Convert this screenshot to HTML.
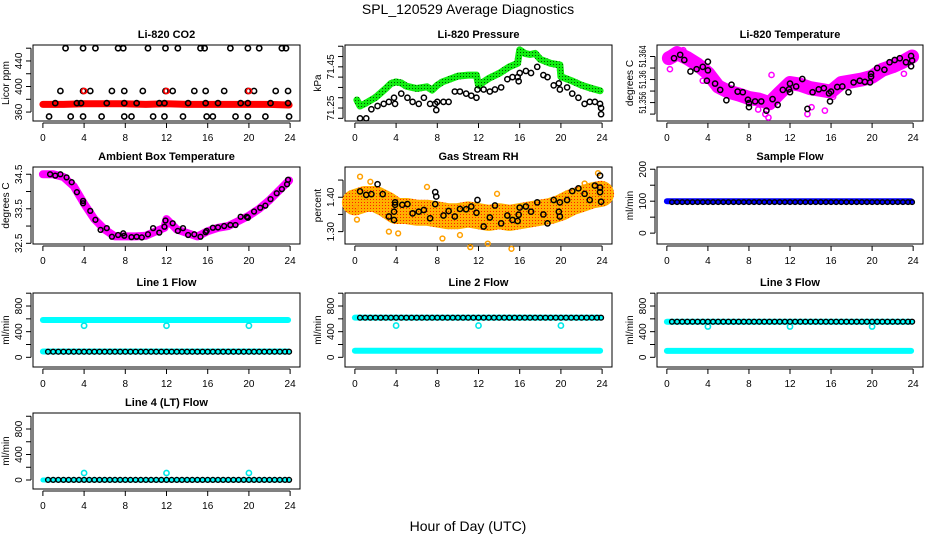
<!DOCTYPE html>
<html><head><meta charset="utf-8"><style>
html,body{margin:0;padding:0;background:#fff;}
svg{display:block;font-family:"Liberation Sans",Arial,sans-serif;}
</style></head><body>
<svg id="chart" width="936" height="540" viewBox="0 0 936 540">
<defs>
<pattern id="orangeDots" width="3" height="3" patternUnits="userSpaceOnUse"><rect width="3" height="3" fill="#ffb000"/><rect x="1" y="1" width="1" height="1" fill="#ff2000"/></pattern>
<pattern id="greenDots" width="3" height="3" patternUnits="userSpaceOnUse"><rect width="3" height="3" fill="#11ee11"/><rect x="1" y="1" width="1" height="1" fill="#005500"/></pattern>
</defs>
<text x="468" y="14" text-anchor="middle" font-size="14">SPL_120529  Average Diagnostics</text>
<text x="468" y="531" text-anchor="middle" font-size="14">Hour of Day (UTC)</text>
</svg>
<script>
// ---- data ----
const hours48 = [0.5,1,1.5,2,2.5,3,3.5,4,4.5,5,5.5,6,6.5,7,7.5,8,8.5,9,9.5,10,10.5,11,11.5,12,12.5,13,13.5,14,14.5,15,15.5,16,16.5,17,17.5,18,18.5,19,19.5,20,20.5,21,21.5,22,22.5,23,23.5,23.9];
const xTicks = [0,4,8,12,16,20,24];

// CO2
const co2RedHours = [0,2,4,6,8,10,12,14,16,18,20,22,23.9];
const co2RedVals = [372,372,373,373,373,372,373,372,372,372,372,372,371];
const co2RedMarkHours = [4,12,20];
const co2RedMarkVals = [393,393,393];
const co2BlackHours = [2.2,3.9,5.1,7.3,7.8,10.2,11.9,13.1,15.3,15.7,18.2,19.9,21.0,23.2,23.6,
 1.7,3.9,4.6,6.7,7.9,9.7,11.9,12.6,14.7,15.8,17.6,19.9,20.5,22.6,23.8,
 1.2,3.3,3.7,6.2,7.9,9.1,11.3,11.8,14.1,15.8,17.0,19.2,19.9,22.1,23.8,
 0.6,2.7,3.9,5.7,7.9,8.6,10.7,11.8,13.6,15.9,16.5,18.7,19.9,21.6,23.9];
const co2BlackVals = [460,460,460,460,460,460,460,460,460,460,460,460,460,460,460,
 393,393,393,393,393,393,393,393,393,393,393,393,393,393,393,
 374,374,374,374,374,374,374,374,374,374,374,374,374,374,374,
 353,353,353,353,353,353,353,353,353,353,353,353,353,353,353];

// Pressure
const presGreenHours = [0.2,0.5,1,2,3,3.5,4,4.5,5,6,7,7.5,8,8.5,9,10,11,11.8,12,13,14,15,15.8,16,16.5,17,17.5,18,19,19.9,20,21,22,23,23.8];
const presGreenVals = [71.289,71.260,71.272,71.301,71.345,71.369,71.377,71.372,71.356,71.345,71.353,71.337,71.361,71.377,71.386,71.405,71.410,71.410,71.361,71.394,71.418,71.450,71.467,71.532,71.515,71.510,71.515,71.486,71.467,71.459,71.402,71.383,71.361,71.345,71.334];
const presBlackHours = [0.5,1.1,1.6,2.2,2.8,3.3,3.8,3.9,4.5,5.1,5.6,6.2,6.7,7.3,7.8,7.9,8.0,8.6,9.1,9.7,10.2,10.8,11.3,11.8,11.9,12.5,13.1,13.6,14.2,14.8,15.3,15.8,15.9,16.0,16.6,17.1,17.7,18.3,18.7,19.3,19.8,19.9,20.6,21.1,21.7,22.3,22.8,23.3,23.8,23.9,23.9];
const presBlackVals = [71.20,71.20,71.244,71.26,71.27,71.28,71.30,71.27,71.32,71.30,71.28,71.27,71.30,71.27,71.27,71.24,71.28,71.28,71.28,71.33,71.33,71.32,71.31,71.30,71.34,71.34,71.33,71.34,71.35,71.39,71.40,71.40,71.38,71.42,71.43,71.42,71.45,71.41,71.40,71.36,71.37,71.34,71.35,71.32,71.30,71.27,71.28,71.28,71.27,71.25,71.22];

// Li-820 temperature
const tempMagHours = [0.2,0.5,1,2,3,4,5,6,7,8,9,10,11,12,13,14,15,16,17,18,19,20,21,22,23,23.9];
const tempMagVals = [51.3637,51.3640,51.3646,51.3637,51.3626,51.3611,51.3588,51.3579,51.3574,51.3568,51.3565,51.3559,51.3577,51.3594,51.3591,51.3585,51.3582,51.3579,51.3594,51.3597,51.3600,51.3605,51.3617,51.3623,51.3631,51.3640];
const tempOutHours = [0.3,1.6,8.9,9.6,9.9,13.7,14.1,15.4,3.5,4.1,10.2,16.2,23.1];
const tempOutVals = [51.3618,51.3651,51.3548,51.3540,51.3534,51.3540,51.3552,51.3546,51.3598,51.3600,51.3608,51.3570,51.3610];
const tempBlackHours = [0.7,1.3,1.7,2.3,2.9,3.5,4.0,4.0,3.9,4.7,5.2,5.8,6.3,6.9,7.4,7.9,8.0,8.0,8.6,9.2,9.7,10.3,10.8,11.3,11.9,12.0,12.0,12.6,13.2,13.7,14.2,14.8,15.3,15.8,16.0,15.9,16.6,17.1,17.7,18.2,18.8,19.3,19.8,19.9,19.9,20.5,21.2,21.7,22.2,22.7,23.3,23.8,23.8,23.9];
const tempBlackVals = [51.3637,51.3643,51.3634,51.3614,51.3618,51.3622,51.3631,51.3616,51.3598,51.3593,51.3582,51.3564,51.3591,51.3579,51.3578,51.3565,51.3552,51.3559,51.3562,51.3562,51.3546,51.3566,51.3556,51.3582,51.3583,51.3578,51.3593,51.3588,51.3601,51.3549,51.3578,51.3583,51.3585,51.3576,51.3579,51.3562,51.3587,51.3588,51.3578,51.3595,51.3598,51.3596,51.3595,51.3610,51.3605,51.3620,51.3617,51.3630,51.3634,51.3637,51.3630,51.3641,51.3623,51.3633];

// Ambient box temperature
const ambMagHours = [0,1,2,3,4,5,6,7,8,9,10,11,11.8,12,13,14,15,16,17,18,19,20,21,22,23,23.9];
const ambMagVals = [34.5,34.5,34.42,34.15,33.65,33.2,32.9,32.7,32.7,32.7,32.72,32.85,32.95,33.2,32.9,32.8,32.7,32.85,32.95,33.0,33.15,33.3,33.5,33.75,34.05,34.32];
const ambBlackHours = [0.7,1.2,1.7,2.3,2.8,3.3,3.9,3.9,4.6,5.1,5.6,6.2,6.7,7.3,7.8,7.9,8.6,9.1,9.6,10.2,10.7,11.3,11.8,11.9,12.6,13.1,13.6,14.1,14.7,15.3,15.8,15.9,16.5,17.0,17.6,18.2,18.7,19.2,19.8,19.9,20.5,21.1,21.6,22.1,22.7,23.2,23.7,23.8];
const ambBlackVals = [34.5,34.46,34.5,34.41,34.27,33.98,33.73,33.66,33.44,33.18,32.89,32.94,32.69,32.74,32.79,32.72,32.68,32.69,32.67,32.76,32.94,32.81,32.98,33.16,33.08,32.86,32.94,32.74,32.76,32.69,32.82,32.86,32.95,32.96,33.0,33.03,33.03,33.27,33.27,33.24,33.42,33.53,33.59,33.78,33.95,34.07,34.21,34.34];

// Gas stream RH
const rhBandHours = [0,1,2,3,4,5,6,7,8,9,10,11,12,13,14,15,16,17,18,19,20,21,22,23,23.9];
const rhBandVals = [1.385,1.395,1.395,1.38,1.36,1.36,1.355,1.355,1.35,1.345,1.345,1.35,1.345,1.34,1.345,1.34,1.345,1.35,1.355,1.36,1.37,1.385,1.395,1.405,1.41];
const rhOutHours = [0.1,0.2,0.5,1.5,3.3,7.0,8.5,10.2,11.2,12.9,15.2,22.3,23.6,13.8,4.2];
const rhOutVals = [1.37,1.335,1.46,1.445,1.30,1.43,1.28,1.29,1.255,1.265,1.25,1.44,1.47,1.41,1.295];
const rhBlackHours = [0.5,1.1,1.6,2.2,2.7,3.3,3.8,3.8,3.9,3.9,4.6,5.1,5.6,6.2,6.7,7.3,7.8,7.9,7.8,8.6,9.1,9.7,10.2,10.8,11.3,11.8,11.9,12.5,13.1,13.6,14.2,14.8,15.3,15.8,15.9,16.0,16.6,17.1,17.7,18.3,18.7,19.3,19.8,19.9,19.9,20.6,21.1,21.7,22.3,22.8,23.3,23.8,23.8,23.8,23.9];
const rhBlackVals = [1.417,1.407,1.409,1.438,1.409,1.344,1.334,1.358,1.378,1.385,1.378,1.380,1.353,1.358,1.363,1.339,1.415,1.402,1.380,1.347,1.360,1.344,1.366,1.365,1.373,1.355,1.392,1.315,1.341,1.376,1.324,1.347,1.334,1.331,1.349,1.370,1.373,1.358,1.385,1.350,1.324,1.392,1.358,1.344,1.385,1.392,1.418,1.426,1.410,1.392,1.434,1.463,1.428,1.415,1.387];

// Sample flow
const sampleBlueHours = [0,23.8];
const sampleBlueVals = [100,100];
const sampleBlackVals = [97,97,97,97,97,97,97,97,97,97,97,97,97,97,97,97,97,97,97,97,97,97,97,97,97,97,97,97,97,97,97,97,97,97,97,97,97,97,97,97,97,97,97,97,97,97,97,97];

// Line flows
const cyanBandHours = [0,23.8];
const cyanDipHours = [4,12,20];
const line1CyanHi = [582,582];
const line1CyanLo = [90,90];
const line1CyanDip = [493,493,493];
const line1BlackVals = [87,87,87,87,87,87,87,87,87,87,87,87,87,87,87,87,87,87,87,87,87,87,87,87,87,87,87,87,87,87,87,87,87,87,87,87,87,87,87,87,87,87,87,87,87,87,87,87];
const line2CyanHi = [620,620];
const line2CyanLo = [103,103];
const line2CyanDip = [495,495,495];
const line2BlackVals = [618,618,618,618,618,618,618,618,618,618,618,618,618,618,618,618,618,618,618,618,618,618,618,618,618,618,618,618,618,618,618,618,618,618,618,618,618,618,618,618,618,618,618,618,618,618,618,618];
const line3CyanHi = [555,555];
const line3CyanLo = [100,100];
const line3CyanDip = [480,480,480];
const line3BlackVals = [555,555,555,555,555,555,555,555,555,555,555,555,555,555,555,555,555,555,555,555,555,555,555,555,555,555,555,555,555,555,555,555,555,555,555,555,555,555,555,555,555,555,555,555,555,555,555,555];
const line4CyanBase = [0,0];
const line4CyanSpike = [110,110,110];
const line4BlackVals = [2,2,2,2,2,2,2,2,2,2,2,2,2,2,2,2,2,2,2,2,2,2,2,2,2,2,2,2,2,2,2,2,2,2,2,2,2,2,2,2,2,2,2,2,2,2,2,2];

// ---- drawing ----
const NS = 'http://www.w3.org/2000/svg';
const svg = document.getElementById('chart');
function mk(tag, attrs, parent, name) {
  const e = document.createElementNS(NS, tag);
  for (const k in attrs) e.setAttribute(k, attrs[k]);
  
  
  (parent || svg).appendChild(e);
  return e;
}
function makePanel(o) {
  const g = mk('g', {}, svg, o.name);
  const [x0, x1, y0, y1] = o.box;
  const sx = h => x0 + (h + 0.96) / 25.92 * (x1 - x0);
  const sy = v => y1 - (v - o.ymin) / (o.ymax - o.ymin) * (y1 - y0);
  mk('rect', {x: x0, y: y0, width: x1 - x0, height: y1 - y0, fill: 'none', stroke: '#000', 'stroke-width': 1}, g, 'plot-frame');
  mk('text', {x: (x0 + x1) / 2, y: y0 - 7, 'text-anchor': 'middle', 'font-size': 11, 'font-weight': 'bold'}, g, 'panel-title').textContent = o.title;
  mk('line', {x1: sx(0), x2: sx(24), y1: y1 + 2, y2: y1 + 2, stroke: '#000'}, g, 'x-axis-line');
  xTicks.forEach(t => {
    mk('line', {x1: sx(t), x2: sx(t), y1: y1 + 2, y2: y1 + 7, stroke: '#000'}, g, 'x-tick');
    mk('text', {x: sx(t), y: y1 + 20, 'text-anchor': 'middle', 'font-size': 10}, g, 'x-tick-label').textContent = t;
  });
  const yt = o.yticks;
  mk('line', {x1: x0 - 2, x2: x0 - 2, y1: sy(yt[0]), y2: sy(yt[yt.length - 1]), stroke: '#000'}, g, 'y-axis-line');
  yt.forEach(t => mk('line', {x1: x0 - 7, x2: x0 - 2, y1: sy(t), y2: sy(t), stroke: '#000'}, g, 'y-tick'));
  o.ylabels.forEach((t, i) => {
    const yy = sy(o.ylabelVals[i]);
    const a = {x: x0 - 11, y: yy, 'text-anchor': 'middle', 'font-size': 10, transform: `rotate(-90 ${x0 - 11} ${yy})`};
    if (o.labelLen) { a.textLength = o.labelLen * t.length / 6; a.lengthAdjust = 'spacingAndGlyphs'; }
    mk('text', a, g, 'y-tick-label').textContent = t;
  });
  const ym = (y0 + y1) / 2;
  mk('text', {x: x0 - 24, y: ym, 'text-anchor': 'middle', 'font-size': 10, transform: `rotate(-90 ${x0 - 24} ${ym})`}, g, 'y-axis-title').textContent = o.ylabel;
  const plot = mk('g', {}, g, 'plot-area');
  return {g: plot, sx, sy};
}
function band(p, hs, vs, color, w, name) {
  const pts = hs.map((h, i) => p.sx(h).toFixed(1) + ',' + p.sy(vs[i]).toFixed(1)).join(' ');
  mk('polyline', {points: pts, fill: 'none', stroke: color, 'stroke-width': w, 'stroke-linejoin': 'round', 'stroke-linecap': 'round'}, p.g, name);
}
function pts(p, hs, vs, color, r, sw, name) {
  hs.forEach((h, i) => mk('circle', {cx: p.sx(h), cy: p.sy(vs[i]), r: r, fill: 'none', stroke: color, 'stroke-width': sw}, p.g, name));
}
const C1 = [33, 300], C2 = [345, 612], C3 = [657, 923];
const R1 = [45, 121], R2 = [167, 244], R3 = [293, 367], R4 = [413, 489];
const box = (c, r) => [c[0], c[1], r[0], r[1]];

let p = makePanel({name: 'panel-co2', box: box(C1, R1), ymin: 346, ymax: 465, yticks: [360,380,400,420,440,460], ylabels: ['360','400','440'], ylabelVals: [360,400,440], title: 'Li-820 CO2', ylabel: 'Licor ppm'});
band(p, co2RedHours, co2RedVals, '#ff0000', 7, 'co2-red-band');
pts(p, co2BlackHours, co2BlackVals, '#000', 2.6, 1.6, 'co2-point');
pts(p, co2RedMarkHours, co2RedMarkVals, '#ff0000', 2.6, 1.6, 'co2-red-point');

p = makePanel({name: 'panel-pressure', box: box(C2, R1), ymin: 71.187, ymax: 71.556, yticks: [71.20,71.25,71.30,71.35,71.40,71.45,71.50,71.55], ylabels: ['71.25','71.45'], ylabelVals: [71.25,71.45], title: 'Li-820 Pressure', ylabel: 'kPa'});
band(p, presGreenHours, presGreenVals, 'url(#greenDots)', 7, 'pressure-green-band');
pts(p, presBlackHours, presBlackVals, '#000', 2.6, 1.5, 'pressure-point');

p = makePanel({name: 'panel-li820-temp', box: box(C3, R1), ymin: 51.3528, ymax: 51.3660, yticks: [51.354,51.356,51.358,51.360,51.362,51.364], ylabels: ['51.356','51.36','51.364'], ylabelVals: [51.356,51.360,51.364], labelLen: 22, title: 'Li-820 Temperature', ylabel: 'degrees C'});
band(p, tempMagHours, tempMagVals, '#ff00ff', 14, 'temp-magenta-band');
pts(p, tempOutHours, tempOutVals, '#ff00ff', 2.6, 1.5, 'temp-magenta-point');
pts(p, tempBlackHours, tempBlackVals, '#000', 2.6, 1.5, 'temp-point');

p = makePanel({name: 'panel-ambient-temp', box: box(C1, R2), ymin: 32.48, ymax: 34.71, yticks: [32.5,33,33.5,34,34.5], ylabels: ['32.5','33.5','34.5'], ylabelVals: [32.5,33.5,34.5], title: 'Ambient Box Temperature', ylabel: 'degrees C'});
band(p, ambMagHours, ambMagVals, '#ff00ff', 8, 'ambient-magenta-band');
pts(p, ambBlackHours, ambBlackVals, '#000', 2.4, 1.5, 'ambient-point');

p = makePanel({name: 'panel-gas-rh', box: box(C2, R2), ymin: 1.264, ymax: 1.488, yticks: [1.30,1.35,1.40,1.45], ylabels: ['1.30','1.40'], ylabelVals: [1.30,1.40], title: 'Gas Stream RH', ylabel: 'percent'});
band(p, rhBandHours, rhBandVals, 'url(#orangeDots)', 26, 'rh-orange-band');
pts(p, rhOutHours, rhOutVals, '#ffa000', 2.4, 1.5, 'rh-orange-point');
pts(p, rhBlackHours, rhBlackVals, '#000', 2.6, 1.5, 'rh-point');

p = makePanel({name: 'panel-sample-flow', box: box(C3, R2), ymin: -34, ymax: 207, yticks: [0,50,100,150,200], ylabels: ['0','100','200'], ylabelVals: [0,100,200], title: 'Sample Flow', ylabel: 'ml/min'});
band(p, sampleBlueHours, sampleBlueVals, '#0000ff', 6, 'sample-blue-band');
pts(p, hours48, sampleBlackVals, '#000', 2.3, 1.4, 'sample-point');

const flowTicks = [0,200,400,600,800,1000];
p = makePanel({name: 'panel-line1-flow', box: box(C1, R3), ymin: -151, ymax: 1003, yticks: flowTicks, ylabels: ['0','400','800'], ylabelVals: [0,400,800], title: 'Line 1 Flow', ylabel: 'ml/min'});
band(p, cyanBandHours, line1CyanHi, '#00ffff', 6, 'line1-cyan-high');
band(p, cyanBandHours, line1CyanLo, '#00ffff', 6, 'line1-cyan-low');
pts(p, cyanDipHours, line1CyanDip, '#00e8e8', 2.6, 1.6, 'line1-cyan-dip');
pts(p, hours48, line1BlackVals, '#000', 2.4, 1.4, 'line1-point');

p = makePanel({name: 'panel-line2-flow', box: box(C2, R3), ymin: -151, ymax: 1003, yticks: flowTicks, ylabels: ['0','400','800'], ylabelVals: [0,400,800], title: 'Line 2 Flow', ylabel: 'ml/min'});
band(p, cyanBandHours, line2CyanHi, '#00ffff', 6, 'line2-cyan-high');
band(p, cyanBandHours, line2CyanLo, '#00ffff', 6, 'line2-cyan-low');
pts(p, cyanDipHours, line2CyanDip, '#00e8e8', 2.6, 1.6, 'line2-cyan-dip');
pts(p, hours48, line2BlackVals, '#000', 2.4, 1.4, 'line2-point');

p = makePanel({name: 'panel-line3-flow', box: box(C3, R3), ymin: -151, ymax: 1003, yticks: flowTicks, ylabels: ['0','400','800'], ylabelVals: [0,400,800], title: 'Line 3 Flow', ylabel: 'ml/min'});
band(p, cyanBandHours, line3CyanHi, '#00ffff', 6, 'line3-cyan-high');
band(p, cyanBandHours, line3CyanLo, '#00ffff', 6, 'line3-cyan-low');
pts(p, cyanDipHours, line3CyanDip, '#00e8e8', 2.6, 1.6, 'line3-cyan-dip');
pts(p, hours48, line3BlackVals, '#000', 2.4, 1.4, 'line3-point');

p = makePanel({name: 'panel-line4-flow', box: box(C1, R4), ymin: -141, ymax: 1051, yticks: flowTicks, ylabels: ['0','400','800'], ylabelVals: [0,400,800], title: 'Line 4 (LT) Flow', ylabel: 'ml/min'});
band(p, cyanBandHours, line4CyanBase, '#00ffff', 5, 'line4-cyan-base');
pts(p, cyanDipHours, line4CyanSpike, '#00e8e8', 2.6, 1.6, 'line4-cyan-spike');
pts(p, hours48, line4BlackVals, '#000', 2.4, 1.4, 'line4-point');
</script>
</body></html>
